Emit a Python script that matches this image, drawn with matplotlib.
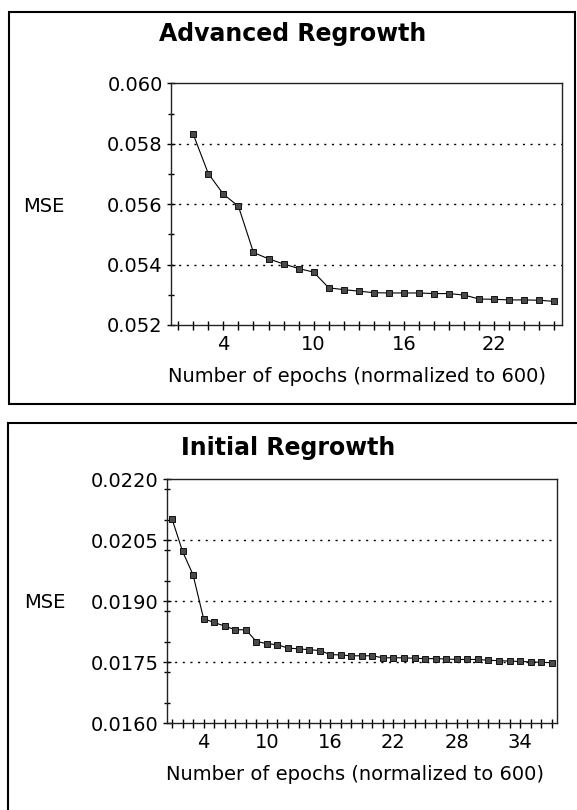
import matplotlib
matplotlib.use("Agg")
import matplotlib.pyplot as plt
from matplotlib.patches import Rectangle
from matplotlib.ticker import MultipleLocator, FormatStrFormatter

W, H, DPI = 577, 810, 100

# ---------------- data ----------------
adv_title = "Advanced Regrowth"
adv_epochs = [2, 3, 4, 5, 6, 7, 8, 9, 10, 11, 12, 13, 14, 15, 16, 17, 18, 19,
              20, 21, 22, 23, 24, 25, 26]
adv_mse = [0.05831, 0.05701, 0.05633, 0.05593, 0.05440, 0.05419, 0.05402,
           0.05387, 0.05375, 0.05323, 0.05317, 0.05312, 0.05307, 0.05306,
           0.05306, 0.05306, 0.05304, 0.05304, 0.05299, 0.05286, 0.05285,
           0.05283, 0.05283, 0.05282, 0.05278]
adv_yticks = [0.052, 0.054, 0.056, 0.058, 0.060]
adv_grid = [0.054, 0.056, 0.058]
adv_xticks = [4, 10, 16, 22]
adv_ncat = 26

ini_title = "Initial Regrowth"
ini_epochs = [1, 2, 3, 4, 5, 6, 7, 8, 9, 10, 11, 12, 13, 14, 15, 16, 17, 18,
              19, 20, 21, 22, 23, 24, 25, 26, 27, 28, 29, 30, 31, 32, 33, 34,
              35, 36, 37]
ini_mse = [0.02103, 0.02023, 0.01965, 0.01857, 0.01848, 0.01839, 0.01830,
           0.01830, 0.01801, 0.01796, 0.01793, 0.01785, 0.01783, 0.01781,
           0.01779, 0.01769, 0.01768, 0.01766, 0.01766, 0.01766, 0.01761,
           0.01761, 0.01761, 0.01760, 0.01759, 0.01759, 0.01758, 0.01757,
           0.01757, 0.01757, 0.01755, 0.01754, 0.01753, 0.01752, 0.01751,
           0.01750, 0.01749]
ini_yticks = [0.0160, 0.0175, 0.0190, 0.0205, 0.0220]
ini_grid = [0.0175, 0.0190, 0.0205]
ini_xticks = [4, 10, 16, 22, 28, 34]
ini_ncat = 37

ylabel = "MSE"
xlabel = "Number of epochs (normalized to 600)"

# ---------------- figure ----------------
fig = plt.figure(figsize=(W / DPI, H / DPI), dpi=DPI)
fig.patch.set_facecolor("white")


def px_rect(l, t, r, b):
    return [l / W, 1 - b / H, (r - l) / W, (b - t) / H]


def fx(x):
    return x / W


def fy(y):
    return 1 - y / H


# panel borders
fig.add_artist(Rectangle((fx(8.5), fy(404.5)), (575 - 8.5) / W, (404.5 - 12.5) / H,
                         transform=fig.transFigure, fill=False, lw=1.5,
                         ec="black"))
fig.add_artist(Rectangle((fx(8.0), fy(830)), (600 - 8.0) / W, (830 - 422.5) / H,
                         transform=fig.transFigure, fill=False, lw=1.5,
                         ec="black"))

PX = 72.0 / DPI  # points per pixel


def panel(rect, x, y, ncat, yticks, grid, xticks, fmt, ylim):
    ax = fig.add_axes(rect)
    for g in grid:
        ax.axhline(g, color="black", lw=1.0, linestyle=(0, (1.5, 4)), zorder=1)
    ax.plot(x, y, color="black", lw=0.8, marker="s", ms=4.4, mfc="#4a4a4a",
            mec="#111111", mew=0.7, zorder=3, clip_on=False)
    ax.set_xlim(0.5, ncat + 0.5)
    ax.set_ylim(*ylim)
    ax.set_yticks(yticks)
    step = (yticks[1] - yticks[0]) / 2
    ax.yaxis.set_minor_locator(MultipleLocator(step))
    ax.yaxis.set_major_formatter(FormatStrFormatter(fmt))
    ax.set_xticks(xticks)
    ax.set_xticks(list(range(1, ncat + 1)), minor=True)
    ax.tick_params(axis="y", which="major", direction="inout", length=8 * PX,
                   width=1.0, labelsize=14, pad=4 * PX)
    ax.tick_params(axis="y", which="minor", direction="inout", length=6 * PX,
                   width=1.0)
    ax.tick_params(axis="x", which="both", direction="inout", length=9 * PX,
                   width=1.0, labelsize=14, pad=5.5 * PX)
    for s in ax.spines.values():
        s.set_linewidth(1.0)
        s.set_color("#222222")
    return ax


ax1 = panel(px_rect(170.7, 83.3, 562, 325), adv_epochs, adv_mse, adv_ncat,
            adv_yticks, adv_grid, adv_xticks, "%.3f", (0.052, 0.060))
ax2 = panel(px_rect(166.7, 479.3, 557, 723.3), ini_epochs, ini_mse, ini_ncat,
            ini_yticks, ini_grid, ini_xticks, "%.4f", (0.0160, 0.0220))

# texts
fig.text(fx(293), fy(33.5), adv_title, ha="center", va="center",
         fontsize=17, fontweight="bold")
fig.text(fx(288), fy(447.5), ini_title, ha="center", va="center",
         fontsize=17, fontweight="bold")
fig.text(fx(23.6), fy(207), ylabel, ha="left", va="center", fontsize=14)
fig.text(fx(24.2), fy(602), ylabel, ha="left", va="center", fontsize=14)
fig.text(fx(357), fy(377), xlabel, ha="center", va="center", fontsize=14)
fig.text(fx(355), fy(775), xlabel, ha="center", va="center", fontsize=14)

fig.savefig("out.png", dpi=DPI, facecolor="white")
